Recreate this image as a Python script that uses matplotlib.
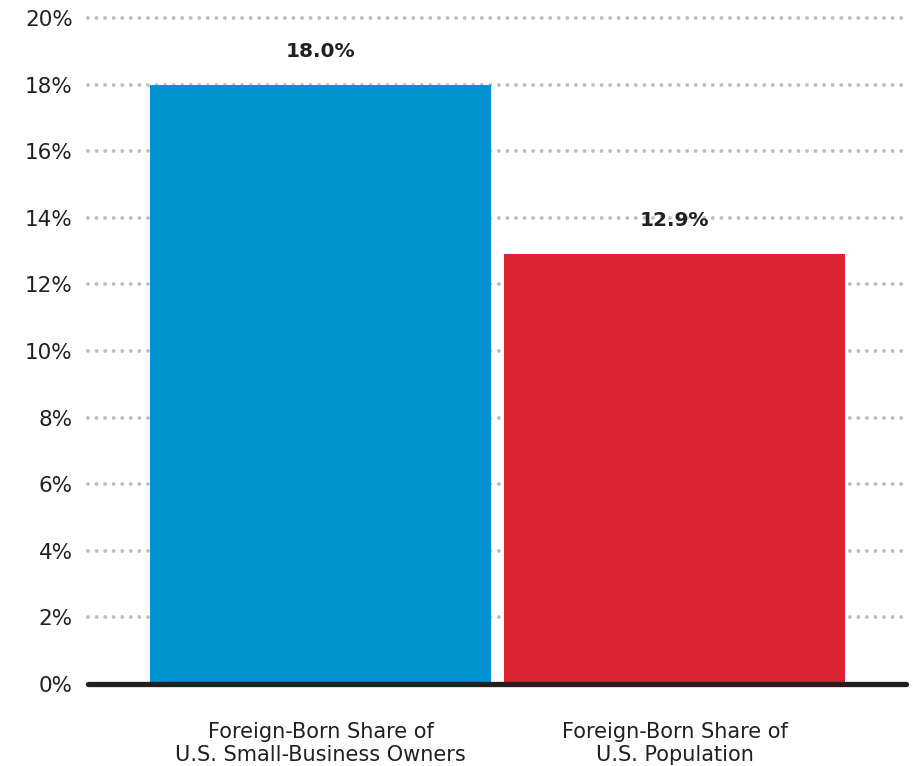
import matplotlib
matplotlib.use("Agg")
import matplotlib.pyplot as plt

categories = ["Foreign-Born Share of\nU.S. Small-Business Owners", "Foreign-Born Share of\nU.S. Population"]
values = [18.0, 12.9]
colors = ["#0093d0", "#dc2331"]
yticks = [0, 2, 4, 6, 8, 10, 12, 14, 16, 18, 20]

plt.rcParams['font.family'] = ['DejaVu Sans']
fig = plt.figure(figsize=(9.13, 7.66), dpi=100)
W, H = 913, 766
ax = fig.add_axes([88 / W, (H - 684) / H, (906 - 88) / W, (684 - 18) / H])

x = list(range(len(categories)))
ax.bar(x, values, width=0.962, color=colors, zorder=2)
for xi, v in zip(x, values):
    ax.text(xi, v + 0.72, f"{v:.1f}%", ha="center", va="bottom", fontsize=14.5,
            fontweight="bold", color="#231f20", zorder=4)

ax.set_xlim(-0.656, 1.652)
ax.set_ylim(0, 20)
ax.set_yticks(yticks)
ax.set_yticklabels([f"{t}%" for t in yticks], fontsize=15.5, color="#231f20")
ax.set_xticks(x)
ax.set_xticklabels(categories, fontsize=15, color="#231f20", linespacing=1.22)
ax.tick_params(axis="both", length=0)
ax.tick_params(axis="y", pad=11)
ax.tick_params(axis="x", pad=27)

ax.yaxis.grid(True, color="#bdbdc1", linewidth=2.8, linestyle=(0, (0.001, 2.2)),
              dash_capstyle="round", zorder=0)
for gl in ax.get_ygridlines():
    gl.set_clip_on(False)
ax.set_axisbelow(True)
for s in ax.spines.values():
    s.set_visible(False)
ax.axhline(0, color="#231f20", linewidth=3.8, solid_capstyle="round", zorder=3, clip_on=False)

fig.savefig("out.png", dpi=100)
